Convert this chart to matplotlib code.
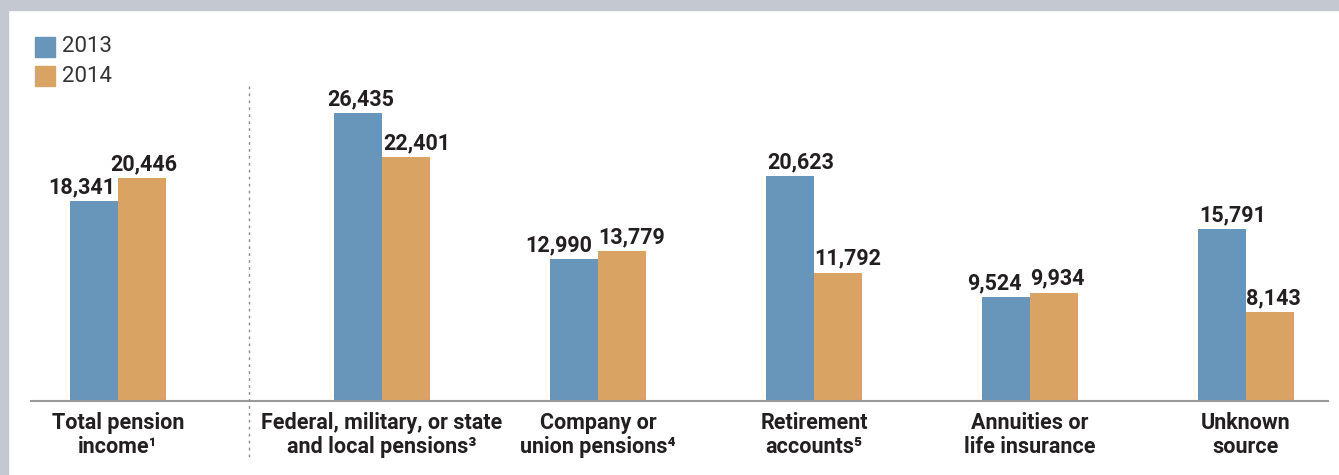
import matplotlib
matplotlib.use('Agg')
import matplotlib.pyplot as plt
from matplotlib.patches import Rectangle
from matplotlib.lines import Line2D

# data
categories = ['Total pension\nincome¹', 'Federal, military, or state\nand local pensions³',
              'Company or\nunion pensions⁴', 'Retirement\naccounts⁵',
              'Annuities or\nlife insurance', 'Unknown\nsource']
years = ['2013', '2014']
v2013 = [18341, 26435, 12990, 20623, 9524, 15791]
v2014 = [20446, 22401, 13779, 11792, 9934, 8143]

# label nudges (px, from the bar's left edge) so neighbouring labels don't collide
shift2013 = [-22, -7, -25, 1, -15, 1]
shift2014 = [-8, 1, 0, 0, 0, 0]

# style
BLUE = '#6895BA'
ORANGE = '#D9A463'
TXT = '#231F20'
FRAME = '#C4C8D0'
plt.rcParams['font.family'] = ['Roboto', 'DejaVu Sans']

W, H = 1339, 475
fig = plt.figure(figsize=(W / 100, H / 100), dpi=100)

# axes: baseline at y=401px, spans x 31..1328 px
ax = fig.add_axes([31 / W, (H - 401) / H, (1328 - 31) / W, 341 / H])
ax.set_facecolor('none')

pos = [0, 1.2222, 2.2222, 3.2222, 4.2222, 5.2222]
bw = 48 / 216
ax.bar([p - bw / 2 for p in pos], v2013, width=bw, color=BLUE, zorder=2)
ax.bar([p + bw / 2 for p in pos], v2014, width=bw, color=ORANGE, zorder=2)

ax.set_xlim((31 - 118) / 216, (1328 - 118) / 216)
ax.set_ylim(0, 341 / 0.010895)

px = 72 / 100  # points per pixel
for i, p in enumerate(pos):
    ax.annotate(f'{v2013[i]:,}', (p - bw, v2013[i]), xytext=(shift2013[i] * px, 8 * px),
                textcoords='offset points', ha='left', va='baseline',
                fontsize=15.5, fontweight='bold', color=TXT)
    ax.annotate(f'{v2014[i]:,}', (p, v2014[i]), xytext=(shift2014[i] * px, 8 * px),
                textcoords='offset points', ha='left', va='baseline',
                fontsize=15.5, fontweight='bold', color=TXT)

for p, c in zip(pos, categories):
    ax.annotate(c, (p, 0), xytext=(0, -8), textcoords='offset points',
                ha='center', va='top', fontsize=15.5, fontweight='bold', color=TXT,
                linespacing=1.12)

for s in ['top', 'right', 'left']:
    ax.spines[s].set_visible(False)
ax.spines['bottom'].set_color('#9A9A9A')
ax.spines['bottom'].set_linewidth(1.5)
ax.set_xticks([])
ax.set_yticks([])

# dashed separator
fig.add_artist(Line2D([249 / W, 249 / W], [(H - 86) / H, (H - 457) / H],
                      color='#8C8C8C', lw=1, linestyle=(0, (2, 3))))

# legend
for i, (yr, col) in enumerate(zip(years, [BLUE, ORANGE])):
    top = 37 + i * 29
    fig.add_artist(Rectangle((35 / W, (H - top - 20) / H), 20 / W, 20 / H,
                             transform=fig.transFigure, color=col))
    fig.text(62 / W, (H - top - 10) / H, yr, ha='left', va='center',
             fontsize=16, color='#333333')

# grey frame top and left
fig.add_artist(Rectangle((0, (H - 10) / H), 1, 10 / H, transform=fig.transFigure,
                         color=FRAME))
fig.add_artist(Rectangle((0, 0), 8 / W, 1, transform=fig.transFigure, color=FRAME))

fig.savefig('out.png', dpi=100)
